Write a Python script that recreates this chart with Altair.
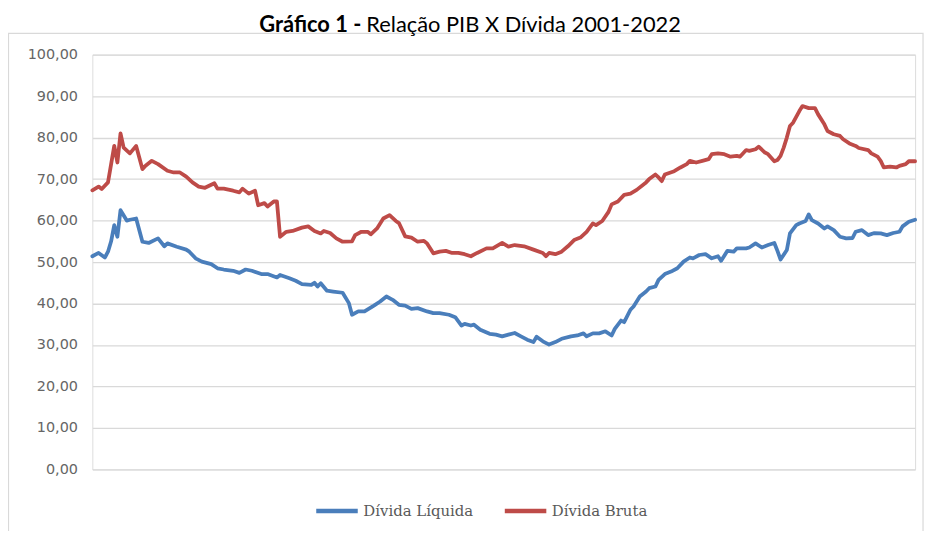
import altair as alt
import pandas as pd

# Month index: 0 = jan/2001 ... 263 = dez/2022
bruta_mes = [0, 2, 3, 5, 6, 7, 8, 9, 10, 12, 14, 15, 16, 17, 19, 21, 24, 26, 28, 30, 32, 34, 36, 39, 40, 42,
             45, 47, 48, 50, 52, 53, 55, 56, 58, 59, 60, 62, 64, 67, 69, 71, 73, 74, 76, 78, 80, 83, 84, 86,
             88, 89, 91, 93, 95, 97, 98, 100, 102, 104, 106, 107, 109, 111, 113, 115, 117, 119, 121, 123,
             126, 128, 131, 133, 135, 138, 141, 144, 145, 146, 148, 150, 152, 154, 156, 158, 160, 161, 163,
             165, 166, 168, 170, 172, 174, 177, 178, 180, 181, 182, 183, 186, 188, 190, 191, 193, 195, 197,
             198, 200, 202, 204, 206, 207, 209, 210, 212, 213, 215, 216, 218, 219, 220, 221, 222, 223, 224,
             226, 227, 229, 231, 232, 234, 235, 237, 239, 240, 242, 244, 245, 248, 249, 251, 252, 253, 255,
             257, 258, 260, 261, 263]
bruta_val = [67.3, 68.2, 67.6, 69.2, 73.6, 78.0, 74.0, 81.0, 77.6, 76.2, 78.0, 75.2, 72.4, 73.2, 74.4, 73.6,
             72.0, 71.6, 71.6, 70.6, 69.2, 68.2, 67.9, 69.0, 67.7, 67.7, 67.2, 66.8, 67.7, 66.5, 67.2, 63.7,
             64.2, 63.4, 64.6, 64.6, 56.1, 57.3, 57.5, 58.3, 58.6, 57.5, 56.9, 57.5, 57.0, 55.7, 54.9, 55.0,
             56.5, 57.3, 57.3, 56.7, 58.1, 60.5, 61.3, 59.9, 59.4, 56.2, 55.9, 54.9, 55.1, 54.5, 52.1, 52.5,
             52.7, 52.2, 52.2, 51.9, 51.4, 52.2, 53.3, 53.3, 54.6, 53.7, 54.1, 53.8, 53.0, 52.2, 51.4, 52.2,
             51.9, 52.5, 53.8, 55.3, 55.9, 57.3, 59.3, 58.9, 59.9, 62.1, 63.9, 64.6, 66.2, 66.5, 67.4, 69.2,
             70.0, 71.1, 70.4, 69.5, 71.1, 71.9, 72.8, 73.6, 74.4, 74.0, 74.4, 74.8, 76.0, 76.2, 76.0, 75.4,
             75.6, 75.4, 77.0, 76.8, 77.2, 77.8, 76.4, 76.0, 74.3, 74.6, 75.6, 77.6, 80.0, 82.8, 83.6, 86.4,
             87.6, 87.1, 87.1, 85.6, 83.2, 81.6, 80.8, 80.4, 79.6, 78.6, 78.0, 77.5, 77.0, 76.2, 75.4, 74.4,
             72.8, 73.0, 72.8, 73.2, 73.6, 74.3, 74.3]

liquida_mes = [0, 2, 4, 5, 6, 7, 8, 9, 11, 12, 14, 16, 18, 21, 23, 24, 27, 30, 31, 33, 35, 38, 40, 42, 45, 47,
               49, 51, 54, 56, 59, 60, 63, 65, 67, 70, 71, 72, 73, 75, 77, 80, 82, 83, 85, 87, 90, 92, 94, 96,
               98, 100, 102, 104, 107, 109, 111, 114, 116, 118, 119, 121, 122, 124, 127, 129, 131, 133, 135,
               137, 139, 141, 142, 144, 146, 148, 150, 153, 155, 157, 158, 160, 162, 164, 166, 167, 169, 170,
               172, 173, 175, 177, 178, 180, 181, 183, 185, 187, 189, 191, 192, 194, 196, 198, 200, 201, 203,
               205, 206, 209, 210, 212, 214, 216, 218, 219, 220, 222, 223, 225, 226, 228, 229, 230, 232, 234,
               235, 237, 239, 241, 243, 244, 246, 248, 250, 252, 254, 256, 258, 259, 261, 263]
liquida_val = [51.4, 52.2, 51.1, 52.5, 55.0, 58.9, 56.1, 62.5, 60.0, 60.2, 60.5, 54.9, 54.6, 55.7, 53.8, 54.5,
               53.7, 53.0, 52.5, 50.9, 50.1, 49.5, 48.5, 48.2, 47.9, 47.4, 48.2, 47.9, 47.1, 47.1, 46.3, 46.9,
               46.1, 45.5, 44.7, 44.5, 45.0, 44.1, 44.9, 43.1, 42.9, 42.6, 40.1, 37.3, 38.1, 38.1, 39.5, 40.5,
               41.7, 40.9, 39.7, 39.5, 38.7, 38.9, 38.1, 37.7, 37.7, 37.3, 36.7, 34.7, 35.1, 34.7, 34.9, 33.7,
               32.7, 32.5, 32.1, 32.5, 32.9, 32.1, 31.3, 30.7, 32.0, 30.9, 30.1, 30.7, 31.5, 32.1, 32.3, 32.8,
               32.1, 32.8, 32.8, 33.3, 32.3, 33.9, 35.9, 35.5, 38.5, 39.3, 41.7, 42.9, 43.7, 44.1, 45.7, 47.1,
               47.7, 48.5, 50.1, 51.1, 50.9, 51.7, 51.9, 50.9, 51.4, 50.3, 52.7, 52.5, 53.3, 53.3, 53.5, 54.5,
               53.5, 54.1, 54.6, 52.7, 50.6, 52.9, 56.9, 58.9, 59.3, 59.9, 61.5, 60.1, 59.3, 58.1, 58.6, 57.7,
               56.1, 55.7, 55.8, 57.3, 57.7, 56.5, 57.0, 56.9, 56.5, 57.0, 57.3, 58.6, 59.7, 60.2]

series = ["Dívida Líquida", "Dívida Bruta"]
colors = ["#4A7EBB", "#BE4B48"]
title_bold = "Gráfico 1 -"
title_rest = "Relação PIB X Dívida 2001-2022"

df = pd.concat([
    pd.DataFrame({"mes": liquida_mes, "valor": liquida_val, "serie": series[0]}),
    pd.DataFrame({"mes": bruta_mes, "valor": bruta_val, "serie": series[1]}),
])

W, H = 829, 418

lines = alt.Chart(df).mark_line(strokeWidth=3.8, strokeJoin="round", strokeCap="round").encode(
    x=alt.X("mes:Q", axis=None, scale=alt.Scale(domain=[0, 263], nice=False, zero=False)),
    y=alt.Y("valor:Q", title=None,
            scale=alt.Scale(domain=[0, 100], nice=False),
            axis=alt.Axis(values=list(range(0, 101, 10)), grid=True, gridColor="#D9D9D9", gridWidth=1.3,
                          domain=False, ticks=False, labelPadding=15, labelFontSize=14.5,
                          labelFont="DejaVu Sans", labelColor="#666666",
                          labelExpr="replace(format(datum.value, '.2f'), '.', ',')")),
    color=alt.Color("serie:N", scale=alt.Scale(domain=series, range=colors), sort=series,
                    legend=alt.Legend(title=None, orient="none", legendX=223, legendY=436,
                                      direction="horizontal", symbolType="stroke", symbolSize=1750,
                                      symbolStrokeWidth=4.5, labelFont="DejaVu Serif", labelFontSize=15,
                                      labelColor="#595959", labelOffset=3, columnPadding=22)),
)

frame_df = pd.DataFrame({"k": [0]})
frame = alt.Chart(frame_df).mark_rect(fill=None, stroke="#D9D9D9", strokeWidth=1.2).encode(
    x=alt.value(-84.5), x2=alt.value(837), y=alt.value(-21.5), y2=alt.value(490)
)

t_bold = alt.Chart(pd.DataFrame({"t": [title_bold]})).mark_text(
    font="Lato", fontSize=22, fontWeight="bold", align="right", baseline="alphabetic", color="#000000"
).encode(text="t:N", x=alt.value(271), y=alt.value(-23))
t_rest = alt.Chart(pd.DataFrame({"t": [title_rest]})).mark_text(
    font="Lato", fontSize=22, align="left", baseline="alphabetic", color="#000000"
).encode(text="t:N", x=alt.value(276), y=alt.value(-23))

chart = alt.layer(frame, lines, t_bold, t_rest).properties(
    width=W, height=H,
    padding={"left": 85, "top": 45, "right": 12, "bottom": 60},
    autosize=alt.AutoSizeParams(type="none"),
).configure_view(stroke=None).configure(background="white")

chart.save("out.html", embed_options={"renderer": "svg", "actions": False})
